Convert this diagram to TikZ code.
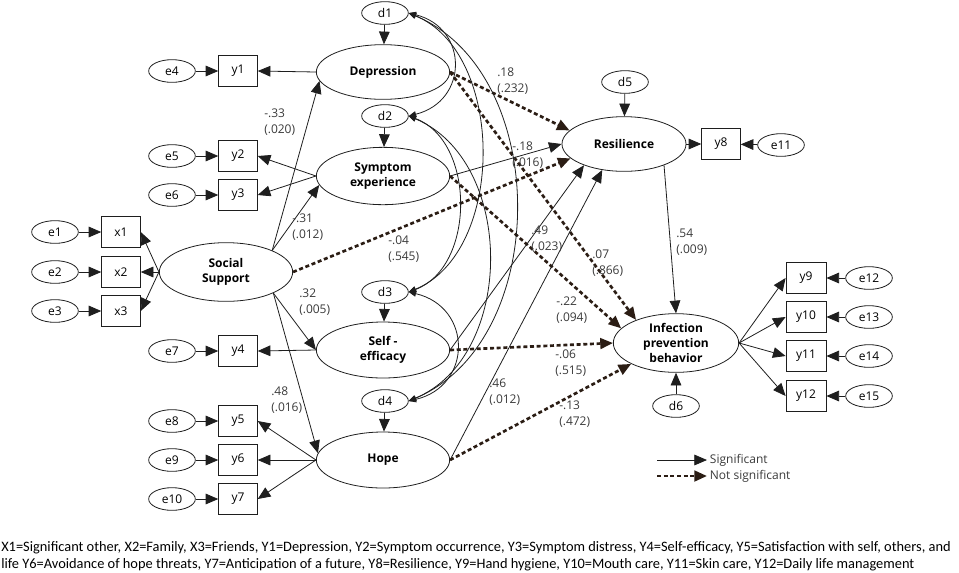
\documentclass[tikz,border=0pt]{standalone}
\usepackage{fontspec}
\setmainfont{Open Sans}
\newfontfamily\notefont{Carlito}
\usetikzlibrary{arrows.meta,shapes.geometric}
\definecolor{ink}{HTML}{1E1E1E}
\definecolor{dotbrown}{HTML}{2B1D14}
\definecolor{coefgray}{HTML}{3A3A3A}

\tikzset{
  latent/.style={ellipse,draw=ink,line width=0.6pt,minimum width=100pt,minimum height=41pt,inner sep=0pt,align=center,font=\bfseries\fontsize{9}{11}\selectfont},
  resid/.style={ellipse,draw=ink,line width=0.6pt,minimum width=35pt,minimum height=17pt,inner sep=0pt,font=\fontsize{9}{10}\selectfont},
  item/.style={rectangle,draw=ink,line width=0.6pt,minimum width=29pt,minimum height=23pt,inner sep=0pt,font=\fontsize{9}{10}\selectfont},
  sig/.style={draw=ink,line width=0.6pt,-{Triangle[length=9.5pt,width=8pt]}},
  nsig/.style={draw=dotbrown,line width=2pt,dash pattern=on 3pt off 2pt,-{Triangle[length=9.5pt,width=8pt]}},
  cov/.style={draw=ink,line width=0.6pt,{Triangle[length=5.5pt,width=4.5pt]}-{Triangle[length=5.5pt,width=4.5pt]}},
  coef/.style={text=coefgray,anchor=west,inner sep=0pt,align=left,font=\fontsize{9}{12.5}\selectfont},
  keytext/.style={anchor=west,inner sep=2pt,text=coefgray,font=\fontsize{9}{10}\selectfont},
  notetext/.style={anchor=west,inner sep=0pt,font=\notefont\fontsize{10.8}{12}\selectfont}
}

\begin{document}
\begin{tikzpicture}[x=0.75pt,y=-0.75pt]
\useasboundingbox (0,0) rectangle (959,572);

\node[latent] (dep) at (383,72) {Depression};
\node[latent,minimum height=43pt] (sym) at (383,176) {Symptom\\experience};
\node[latent,minimum height=44pt] (ss) at (226,272) {Social\\Support};
\node[latent,minimum height=42pt] (self) at (383,350) {Self -\\efficacy};
\node[latent,minimum height=42pt] (hope) at (383,460) {Hope};
\node[latent,minimum width=93pt] (res) at (624,144) {Resilience};
\node[latent,minimum width=94pt,minimum height=44pt] (ipb) at (676,343) {Infection\\prevention\\behavior};

\node[resid] (d1) at (385,13) {d1};
\node[resid] (d2) at (385,116) {d2};
\node[resid] (d3) at (385,292) {d3};
\node[resid] (d4) at (385,401) {d4};
\node[resid] (d5) at (625,82) {d5};
\node[resid] (d6) at (676,406) {d6};

\foreach \e/\b/\x/\y in {e1/x1/55/232,e2/x2/55/272,e3/x3/55/311,e4/y1/172/71,e5/y2/172/156,e6/y3/172/195,e7/y4/172/351,e8/y5/172/421,e9/y6/172/460,e10/y7/172/499}{
  \node[resid] (\e) at (\x,\y) {\e};
  \node[item] (\b) at (\x+66,\y) {\b};
  \draw[sig] (\e) -- (\b);
}
\node[item] (y8) at (721,144) {y8};
\node[resid] (e11) at (781,145) {e11};
\draw[sig] (e11) -- (y8);
\foreach \e/\b/\y in {e12/y9/278,e13/y10/317,e14/y11/356,e15/y12/396}{
  \node[item,minimum width=30pt] (\b) at (806,\y) {\b};
  \node[resid] (\e) at (869,\y) {\e};
  \draw[sig] (\e) -- (\b);
  \draw[sig] (ipb.east) -- (\b.west);
}

\foreach \d/\l in {d1/dep,d2/sym,d3/self,d4/hope,d5/res}
  \draw[sig] (\d) -- (\l);
\draw[sig] (d6) -- (ipb);

\foreach \b in {x1,x2,x3}
  \draw[sig] (ss.west) -- (\b.east);
\draw[sig] (dep.west) -- (y1.east);
\draw[sig] (sym.west) -- (y2.east);
\draw[sig] (sym.west) -- (y3.east);
\draw[sig] (self.west) -- (y4.east);
\foreach \b in {y5,y6,y7}
  \draw[sig] (hope.west) -- (\b.east);
\draw[sig] (res.east) -- (y8.west);

\draw[sig] (ss.25) -- (dep.188);
\draw[sig] (ss.25) -- (sym.188);
\draw[sig] (ss.-24) -- (self.west);
\draw[sig] (ss.-24) -- (hope.174);
\draw[nsig] (ss.east) -- (res.195);
\draw[nsig] (dep.east) -- (res.166);
\draw[nsig] (dep.east) -- (ipb.150);
\draw[sig] (sym.east) -- (res.west);
\draw[nsig] (sym.east) -- (ipb.165);
\draw[sig] (self.east) -- (res.208);
\draw[nsig] (self.east) -- (ipb.west);
\draw[sig] (hope.east) -- (res.230);
\draw[nsig] (hope.east) -- (ipb.205);
\draw[sig] (res.-28) -- (ipb.north);

\draw[cov] (d1.east) .. controls +(60,15) and +(60,-15) .. (d2.east);
\draw[cov] (d1.east) .. controls +(97,40) and +(97,-40) .. (d3.east);
\draw[cov] (d1.east) .. controls +(143,60) and +(143,-60) .. (d4.east);
\draw[cov] (d2.east) .. controls +(67,25) and +(67,-25) .. (d3.east);
\draw[cov] (d2.east) .. controls +(107,45) and +(107,-45) .. (d4.east);
\draw[cov] (d3.east) .. controls +(64,15) and +(64,-15) .. (d4.east);

\node[coef] (c1) at (264,122) {-.33\\(.020)};
\node[coef] (c2) at (292,227) {-.31\\(.012)};
\node[coef] (c3) at (388,249) {-.04\\(.545)};
\node[coef] (c4) at (299,302) {.32\\(.005)};
\node[coef] (c5) at (271,400) {.48\\(.016)};
\node[coef] (c6) at (497,81) {.18\\(.232)};
\node[coef] (c7) at (512,155) {-.18\\(.016)};
\node[coef] (c8) at (531,239) {.49\\(.023)};
\node[coef] (c9) at (592,263) {.07\\(.866)};
\node[coef] (c10) at (676,242) {.54\\(.009)};
\node[coef] (c11) at (556,310) {-.22\\(.094)};
\node[coef] (c12) at (555,363) {-.06\\(.515)};
\node[coef] (c13) at (489,392) {.46\\(.012)};
\node[coef] (c14) at (559,414) {-.13\\(.472)};

\node[keytext] (sigkey) at (707,460) {Significant};
\node[keytext] (nsigkey) at (707,476) {Not significant};
\coordinate (sigstart) at (657,460);
\coordinate (nsigstart) at (657,476);
\draw[sig] (sigstart) -- (sigkey.west);
\draw[nsig] (nsigstart) -- (nsigkey.west);

\node[notetext] (note1) at (1,548) {X1=Significant other, X2=Family, X3=Friends, Y1=Depression, Y2=Symptom occurrence, Y3=Symptom distress, Y4=Self-efficacy, Y5=Satisfaction with self, others, and};
\node[notetext] (note2) at (1,565) {life Y6=Avoidance of hope threats, Y7=Anticipation of a future, Y8=Resilience, Y9=Hand hygiene, Y10=Mouth care, Y11=Skin care, Y12=Daily life management};
\end{tikzpicture}
\end{document}
